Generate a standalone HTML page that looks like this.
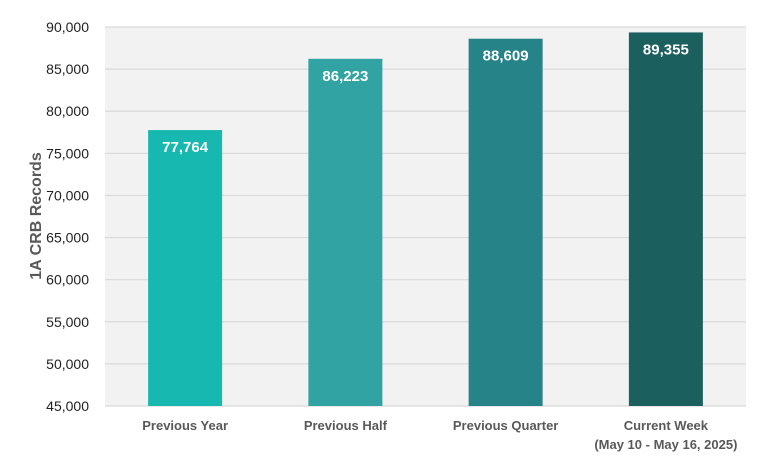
<!DOCTYPE html>
<html><head><meta charset="utf-8"><style>
body{margin:0;background:#fff;font-family:"Liberation Sans",sans-serif;}
</style></head><body>
<svg width="767" height="462" id="c" xmlns="http://www.w3.org/2000/svg"></svg>
<script>
const categories=["Previous Year","Previous Half","Previous Quarter","Current Week"];
const subLabels=["","","","(May 10 - May 16, 2025)"];
const values=[77764,86223,88609,89355];
const valueLabels=["77,764","86,223","88,609","89,355"];
const ticks=[45000,50000,55000,60000,65000,70000,75000,80000,85000,90000];
const colors=["#16b8b0","#31a3a3","#268388","#1b5f5e"];
const NS="http://www.w3.org/2000/svg";
const svg=document.getElementById('c');
const L=105,R=746,T=27,B=406,ymin=45000,ymax=90000;
const y=v=>B-(v-ymin)/(ymax-ymin)*(B-T);
const bw=(R-L)/categories.length;
const x=i=>L+bw*i+bw/2;
function mk(t,a,txt){const e=document.createElementNS(NS,t);for(const k in a)e.setAttribute(k,a[k]);if(txt!==undefined)e.textContent=txt;svg.appendChild(e);return e;}
let bg=mk('rect',{x:L,y:T,width:R-L,height:B-T,fill:'#f2f2f2'});


ticks.forEach(t=>{
 let g=mk('line',{x1:L,x2:R,y1:y(t),y2:y(t),stroke:'#d9d9d9','stroke-width':1.2});
 
 
 let tl=mk('text',{x:89,y:y(t)+5,'text-anchor':'end','font-size':14,fill:'#222'},t.toLocaleString('en-US'));
 
 
});
values.forEach((v,i)=>{
 let r=mk('rect',{x:x(i)-37,y:y(v),width:74,height:B-y(v),fill:colors[i]});
 
 
 let vl=mk('text',{x:x(i),y:y(v)+22,'text-anchor':'middle','font-size':15,'font-weight':'bold',fill:'#fff'},valueLabels[i]);
 
 
 let cl=mk('text',{x:x(i),y:430,'text-anchor':'middle','font-size':13,'font-weight':'bold',fill:'#595959'},categories[i]);
 
 
 if(subLabels[i]){let s=mk('text',{x:x(i),y:449,'text-anchor':'middle','font-size':13,'font-weight':'bold',fill:'#595959'},subLabels[i]);
 
 }
});
let yt=mk('text',{x:0,y:0,transform:'translate(41,216) rotate(-90)','text-anchor':'middle','font-size':16,'font-weight':'bold',fill:'#595959'},'1A CRB Records');


</script>
</body></html>
